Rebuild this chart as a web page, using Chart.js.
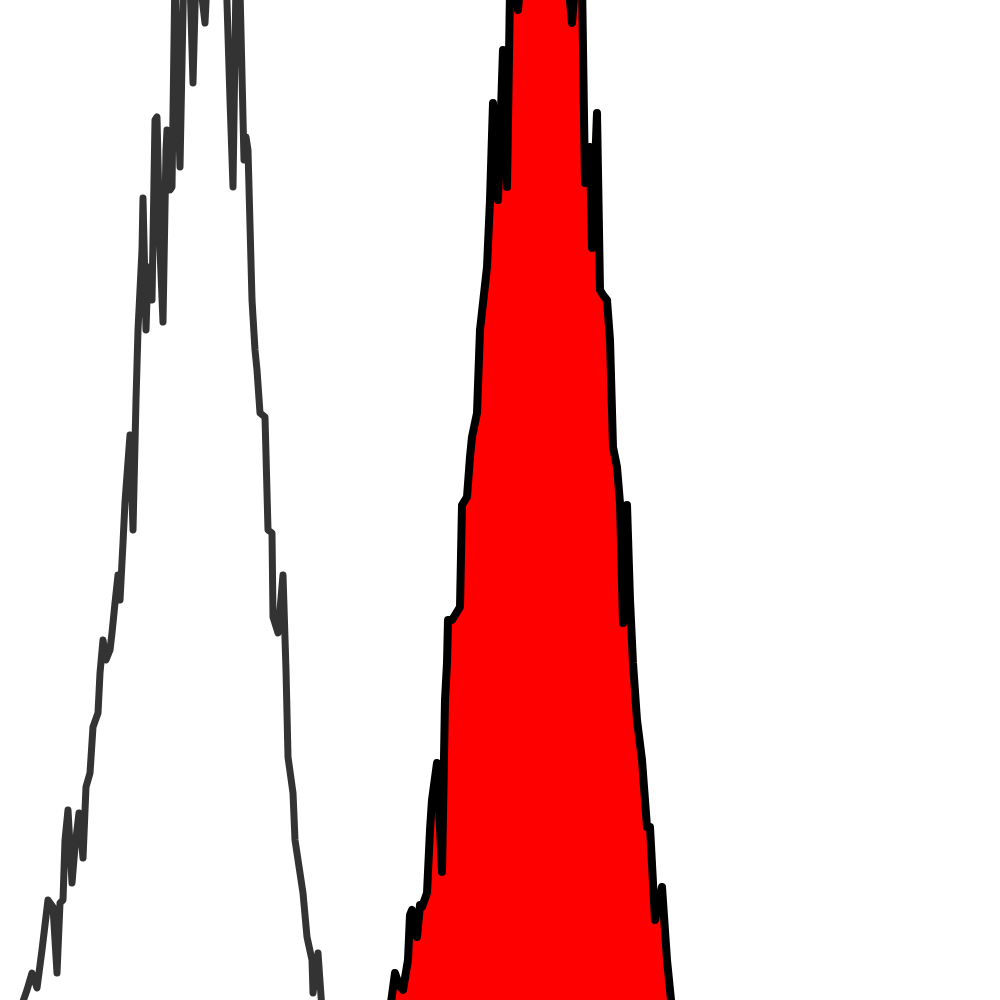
<!DOCTYPE html>
<html>
<head>
<meta charset="utf-8">
<script src="https://cdn.jsdelivr.net/npm/chart.js@4"></script>
<style>
  html, body { margin: 0; padding: 0; background: #fff; }
</style>
</head>
<body>
<canvas id="myChart" width="1000" height="1000"></canvas>
<script>
// control histogram (grey outline)
var controlX = [20, 27, 32, 37, 42, 48, 53, 57, 60, 63, 65, 68, 72, 75, 79, 83, 86, 90, 93, 98,
  100, 103, 106, 110, 112, 115, 118, 120, 123, 125, 130, 133, 136, 138, 142, 143, 146, 148, 152, 155,
  157, 160, 163, 166, 167, 170, 172, 175, 178, 180, 184, 190, 193, 196, 200, 205, 208, 218, 226, 230,
  233, 236, 240, 244, 246, 248, 252, 255, 257, 260, 265, 268, 272, 273, 278, 283, 286, 288, 293, 295,
  303, 307, 312, 313, 318, 322]
var controlCount = [-10, 10, 27, 12, 50, 100, 93, 27, 97, 100, 160, 190, 117, 153, 187, 142, 213, 227, 273, 287,
  327, 360, 340, 350, 367, 397, 425, 400, 457, 498, 565, 470, 600, 670, 750, 802, 670, 733, 700, 880,
  883, 750, 678, 850, 870, 810, 813, 1030, 900, 833, 1040, 1020, 917, 1030, 1020, 977, 1040, 1080, 1030, 900,
  813, 1020, 1010, 840, 863, 850, 700, 650, 630, 587, 583, 470, 467, 383, 367, 425, 330, 243, 207, 160,
  107, 63, 40, 7, 47, -10]

// stained histogram (red fill)
var stainX = [390, 395, 399, 403, 408, 410, 412, 417, 420, 422, 427, 430, 432, 437, 442, 445, 447, 448, 452, 460,
  462, 467, 470, 472, 477, 480, 487, 490, 493, 498, 503, 507, 510, 514, 518, 522, 540, 560, 568, 572,
  576, 582, 585, 590, 592, 597, 600, 603, 607, 610, 613, 617, 620, 623, 627, 630, 633, 637, 642, 647,
  650, 655, 662, 667, 672]
var stainCount = [-10, 27, 15, 10, 40, 85, 90, 63, 95, 93, 107, 170, 200, 237, 128, 300, 337, 380, 380, 393,
  495, 503, 543, 563, 587, 670, 733, 800, 897, 800, 950, 813, 1010, 1040, 990, 1040, 1100, 1060, 1020, 977,
  1030, 1020, 817, 853, 752, 887, 710, 705, 700, 660, 553, 533, 497, 377, 495, 400, 337, 280, 240, 173,
  173, 80, 113, 40, -10]

function toPoints(xs, ys) {
  var pts = []
  for (var i = 0; i < xs.length; i++) {
    pts.push({ x: xs[i], y: ys[i] })
  }
  return pts
}

const data = {
  datasets: [
    {
      label: 'control',
      data: toPoints(controlX, controlCount),
      showLine: true,
      borderColor: '#333333',
      borderWidth: 7,
      backgroundColor: 'rgba(0,0,0,0)',
      fill: false,
      tension: 0,
      pointRadius: 0,
      borderJoinStyle: 'round',
      borderCapStyle: 'round'
    },
    {
      label: 'stained',
      data: toPoints(stainX, stainCount),
      showLine: true,
      borderColor: '#000000',
      borderWidth: 8,
      backgroundColor: '#ff0000',
      fill: 'origin',
      tension: 0,
      pointRadius: 0,
      borderJoinStyle: 'round',
      borderCapStyle: 'round'
    }
  ]
}

const config = {
  type: 'scatter',
  data: data,
  options: {
    responsive: false,
    animation: false,
    layout: { padding: 0 },
    plugins: {
      legend: { display: false },
      tooltip: { enabled: false }
    },
    scales: {
      x: { type: 'linear', min: 0, max: 1000, display: false },
      y: { type: 'linear', min: 0, max: 1000, display: false }
    }
  }
}

new Chart('myChart', config)
</script>
</body>
</html>
